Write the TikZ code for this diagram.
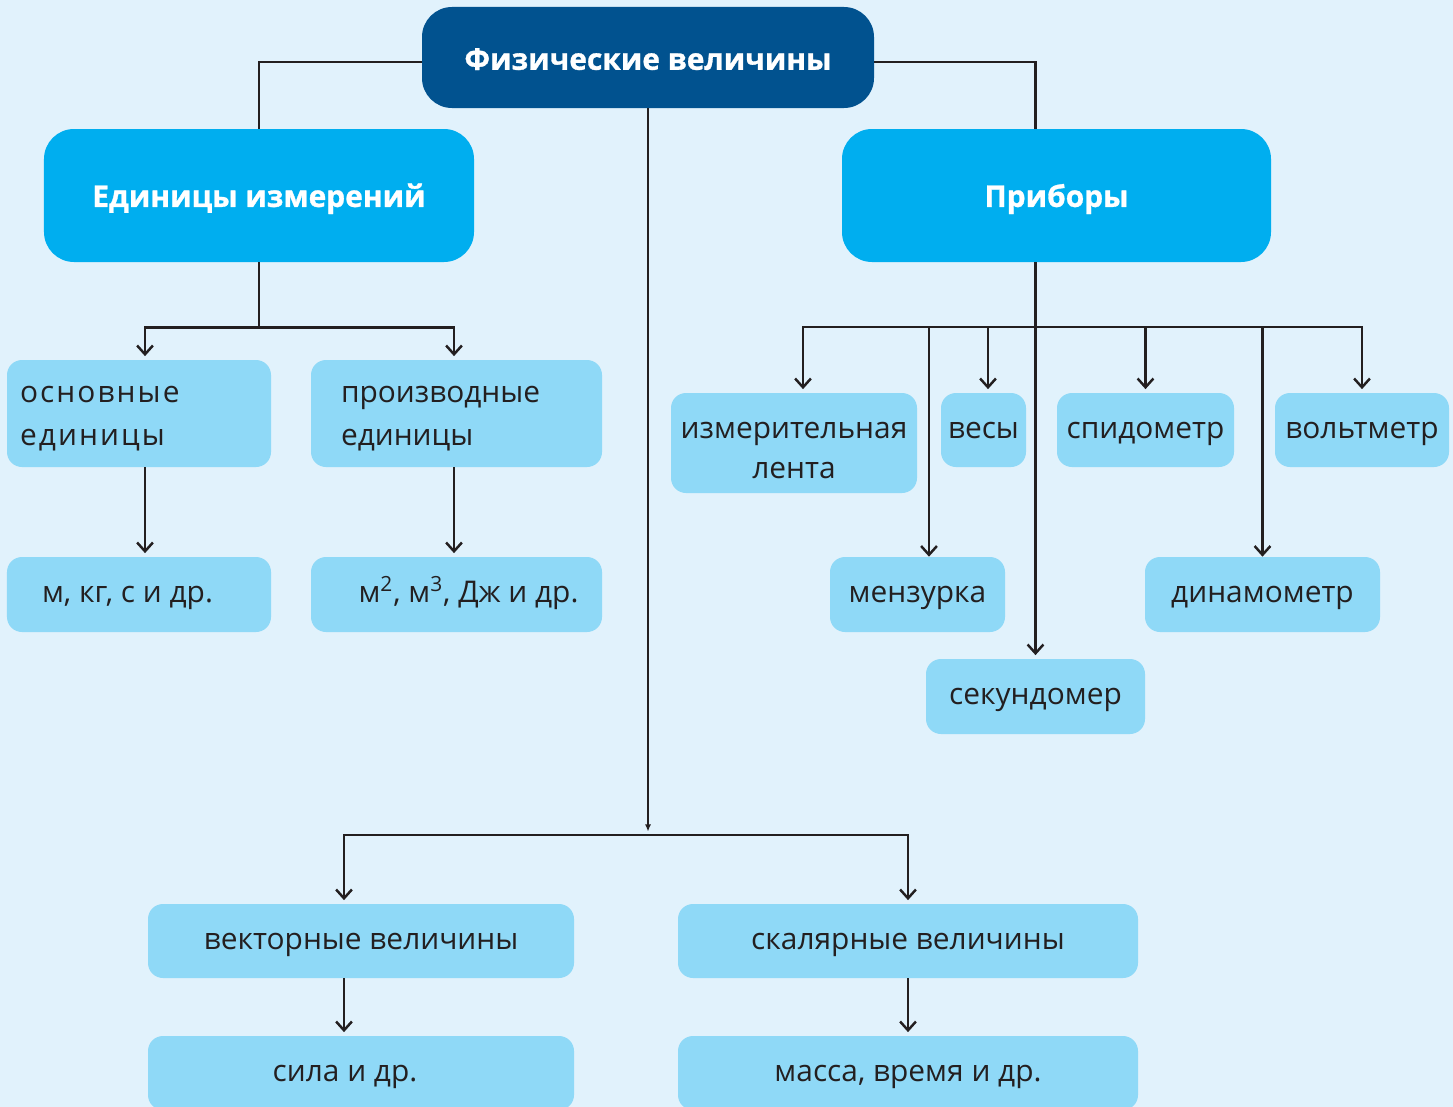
\documentclass[tikz,border=0pt]{standalone}
\usepackage{fontspec}
\setmainfont{Open Sans}[BoldFeatures={FakeBold=1}]
\newfontfamily\widefont{Open Sans}[LetterSpace=7]
\usepackage{tikz}
\usetikzlibrary{arrows.meta,positioning,calc}
\definecolor{bgblue}{HTML}{E1F2FC}
\definecolor{rootblue}{HTML}{01528F}
\definecolor{headblue}{HTML}{00AEEF}
\definecolor{leafblue}{HTML}{8FD9F7}
\definecolor{linegray}{HTML}{231F20}
\tikzset{
  rootbox/.style={fill=rootblue, rounded corners=0.6cm, text=white, inner sep=0pt,
    text height=16pt, text depth=2pt, font=\fontsize{17}{22}\selectfont\bfseries},
  headbox/.style={fill=headblue, rounded corners=0.6cm, text=white, inner sep=0pt,
    text height=15pt, text depth=2pt, font=\fontsize{17}{22}\selectfont\bfseries},
  leafbox/.style={fill=leafblue, rounded corners=0.3cm, text=linegray, inner sep=0pt,
    text height=12pt, text depth=2.6pt, font=\fontsize{17}{23.5}\selectfont},
  link/.style={draw=linegray, line width=1.4pt},
  arr/.style={link, -{Straight Barb[length=5pt,width=9pt]}, shorten >=2pt},
}
\begin{document}
\begin{tikzpicture}
  \fill[bgblue] (0,0) rectangle (29.06,-22.14);
  \clip (0,0) rectangle (29.06,-22.14);

  \node[rootbox, minimum width=9.04cm, minimum height=2.02cm] (phys) at (12.96,-1.15) {Физические величины};
  \node[headbox, minimum width=8.6cm, minimum height=2.66cm] (units) at (5.18,-3.91) {Единицы измерений};
  \node[headbox, minimum width=8.58cm, minimum height=2.66cm] (devices) at (21.13,-3.91) {Приборы};

  \node[leafbox, minimum height=2.14cm, inner xsep=0.26cm, text width=4.76cm, align=left,
    text height=12pt, text depth=24pt, font=\fontsize{17}{24}\widefont] (basic) at (2.78,-8.27) {основные\\единицы};
  \node[leafbox, minimum height=2.14cm, inner xsep=0.6cm, text width=4.62cm, align=left,
    text height=12pt, text depth=24pt, font=\fontsize{17}{24}\selectfont] (derived) at (9.13,-8.27) {производные\\единицы};
  \node[leafbox, minimum width=5.28cm, minimum height=1.5cm] (basicex) at (2.78,-11.89) {м, кг, с и др.\hspace{0.46cm}\mbox{}};
  \node[leafbox, minimum width=5.82cm, minimum height=1.5cm] (derivedex) at (9.13,-11.89) {\hspace{0.48cm}м\textsuperscript{2}, м\textsuperscript{3}, Дж и др.};

  \node[leafbox, minimum height=2.0cm, text width=4.92cm, align=center,
    text height=12pt, text depth=17.6pt, font=\fontsize{17}{23.2}\selectfont] (tape) at (15.88,-8.86) {измерительная\\лента};
  \node[leafbox, minimum width=1.7cm, minimum height=1.48cm] (scales) at (19.67,-8.6) {весы};
  \node[leafbox, minimum width=3.54cm, minimum height=1.48cm] (speedo) at (22.91,-8.6) {спидометр};
  \node[leafbox, minimum width=3.48cm, minimum height=1.48cm] (voltm) at (27.24,-8.6) {вольтметр};
  \node[leafbox, minimum width=3.5cm, minimum height=1.5cm] (beaker) at (18.35,-11.89) {мензурка};
  \node[leafbox, minimum width=4.7cm, minimum height=1.5cm] (dynam) at (25.25,-11.89) {динамометр};
  \node[leafbox, minimum width=4.38cm, minimum height=1.5cm] (stopw) at (20.71,-13.93) {секундомер};

  \node[leafbox, minimum width=8.52cm, minimum height=1.48cm] (vector) at (7.22,-18.82) {векторные величины};
  \node[leafbox, minimum width=9.2cm, minimum height=1.48cm] (scalar) at (18.16,-18.82) {скалярные величины};
  \node[leafbox, minimum width=8.52cm, minimum height=1.48cm] (force) at (7.22,-21.46) {сила и др.\hspace{0.64cm}\mbox{}};
  \node[leafbox, minimum width=9.2cm, minimum height=1.48cm] (mass) at (18.16,-21.46) {масса, время и др.};

  \coordinate (ufork) at ($(units.south)+(0,-1.3)$);
  \coordinate (dfork) at (20.7,-6.54);
  \coordinate (vfork) at (12.96,-16.7);

  \draw[link] ([yshift=-2.5pt]phys.west) -| (units.north);
  \draw[link] ([yshift=-2.5pt]phys.east) -| (devices.north -| stopw.north);

  \draw[link] (units.south) -- (ufork);
  \draw[arr] (ufork) -| ($(basic.north)+(0.12,0)$);
  \draw[arr] (ufork) -| ($(derived.north)+(-0.05,0)$);
  \draw[arr] ($(basic.south)+(0.12,0)$) -- ($(basicex.north)+(0.12,0)$);
  \draw[arr] ($(derived.south)+(-0.05,0)$) -- ($(derivedex.north)+(-0.05,0)$);

  \draw[arr] (devices.south -| stopw.north) -- (stopw.north);
  \draw[arr] (dfork) -| ($(tape.north)+(0.18,0)$);
  \draw[arr] (dfork) -| ($(scales.north)+(0.09,0)$);
  \draw[arr] (dfork) -| (speedo.north);
  \draw[arr] (dfork) -| (voltm.north);
  \draw[arr, shorten >=0pt] (dfork) -| ($(beaker.north)+(0.23,0)$);
  \draw[arr, shorten >=0pt] (dfork) -| (dynam.north);

  \draw[link, -{Latex[length=4pt,width=3.5pt]}, shorten >=2pt] (phys.south) -- (vfork);
  \draw[arr] (vfork) -| ($(vector.north)+(-0.34,0)$);
  \draw[arr] (vfork) -| (scalar.north);
  \draw[arr] ($(vector.south)+(-0.34,0)$) -- ($(force.north)+(-0.34,0)$);
  \draw[arr] (scalar.south) -- (mass.north);
\end{tikzpicture}
\end{document}
